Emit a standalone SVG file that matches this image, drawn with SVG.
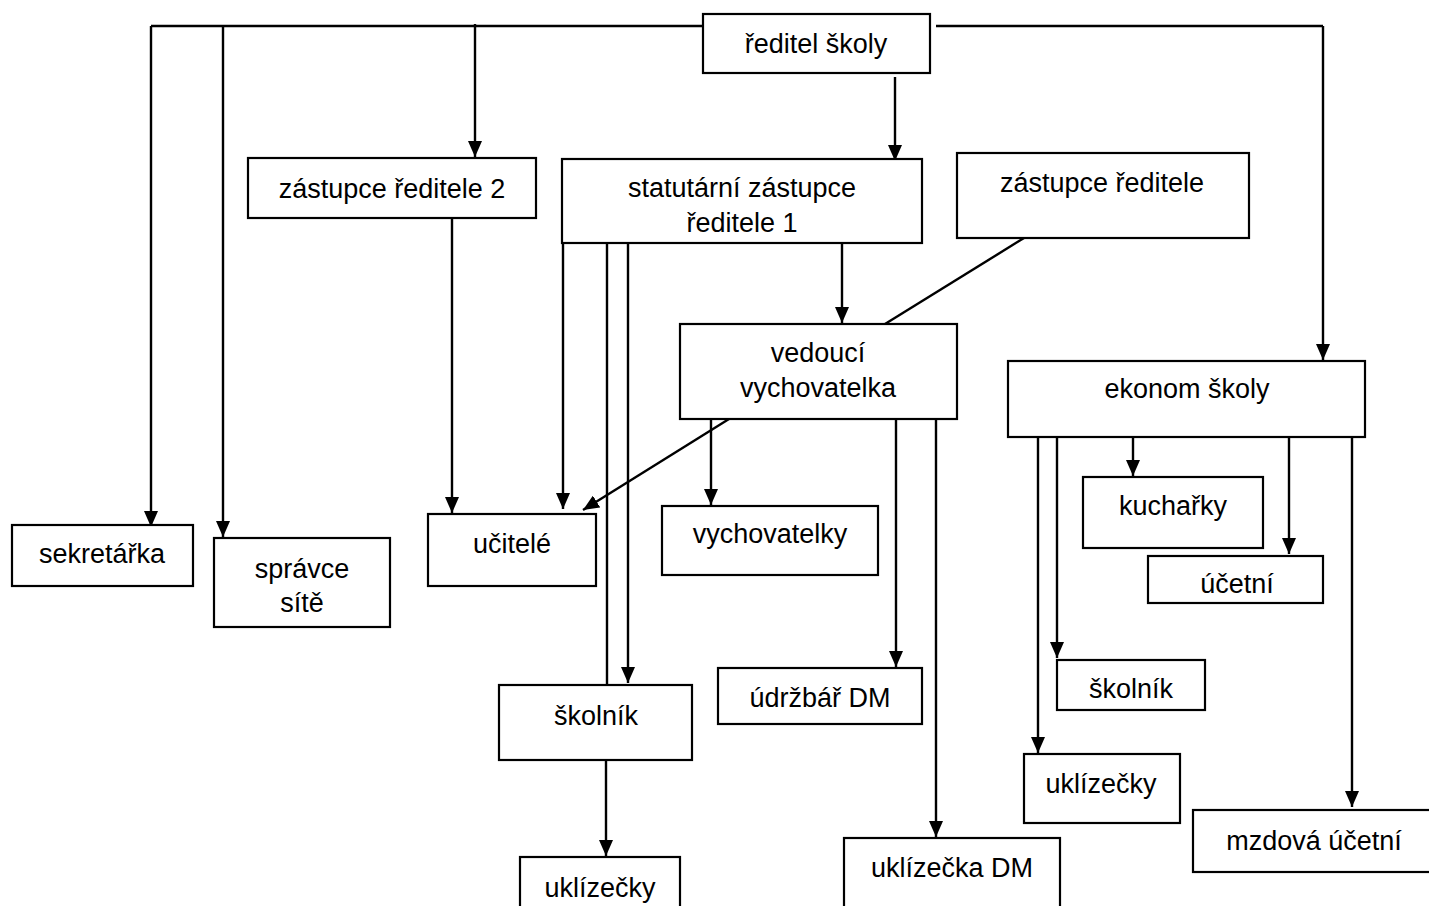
<svg xmlns="http://www.w3.org/2000/svg" width="1429" height="906" viewBox="0 0 1429 906">
<style>
.box{fill:#fff;stroke:#000;stroke-width:2.2}
.t{font-family:"Liberation Sans",Arial,sans-serif;font-size:27px;fill:#000;text-anchor:middle}
.c{fill:none;stroke:#000;stroke-width:2.4}
.a{marker-end:url(#arr)}
</style>
<defs>
<marker id="arr" viewBox="0 0 16 14" refX="16" refY="7" markerWidth="16" markerHeight="14" markerUnits="userSpaceOnUse" orient="auto">
<path d="M0,0 L16,7 L0,14 z" fill="#000"/>
</marker>
</defs>
<rect width="1429" height="906" fill="#fff"/>
<g id="connectors">
<path class="c" d="M151,26 H703"/>
<path class="c a" d="M151,26 V527"/>
<path class="c a" d="M223,26 V537"/>
<path class="c a" d="M475,24 V157"/>
<path class="c" d="M936,26 H1323"/>
<path class="c a" d="M1323,26 V360"/>
<path class="c a" d="M895,77 V161"/>
<path class="c a" d="M452,218 V513"/>
<path class="c a" d="M563,243 V509"/>
<path class="c" d="M607,243 V685"/>
<path class="c a" d="M606,760 V856"/>
<path class="c a" d="M628,243 V683"/>
<path class="c a" d="M842,243 V323"/>
<path class="c" d="M1024,238 L885,324"/>
<path class="c a" d="M729,419 L583,510"/>
<path class="c a" d="M711,419 V505"/>
<path class="c a" d="M896,419 V667"/>
<path class="c a" d="M936,419 V837"/>
<path class="c a" d="M1038,437 V753"/>
<path class="c a" d="M1057,437 V658"/>
<path class="c a" d="M1133,437 V476"/>
<path class="c a" d="M1289,433 V554"/>
<path class="c a" d="M1352,437 V807"/>
</g>
<g id="reditel"><rect class="box" x="703" y="14" width="227" height="59"/><text class="t" x="816" y="53">ředitel školy</text></g>
<g id="zastupce2"><rect class="box" x="248" y="158" width="288" height="60"/><text class="t" x="392" y="198">zástupce ředitele 2</text></g>
<g id="statutarni"><rect class="box" x="562" y="159" width="360" height="84"/><text class="t" x="742" y="197">statutární zástupce</text><text class="t" x="742" y="232">ředitele 1</text></g>
<g id="zastupce"><rect class="box" x="957" y="153" width="292" height="85"/><text class="t" x="1102" y="192">zástupce ředitele</text></g>
<g id="vedouci"><rect class="box" x="680" y="324" width="277" height="95"/><text class="t" x="818" y="362">vedoucí</text><text class="t" x="818" y="397">vychovatelka</text></g>
<g id="ekonom"><rect class="box" x="1008" y="361" width="357" height="76"/><text class="t" x="1187" y="398">ekonom školy</text></g>
<g id="sekretarka"><rect class="box" x="12" y="525" width="181" height="61"/><text class="t" x="102" y="563">sekretářka</text></g>
<g id="spravce"><rect class="box" x="214" y="538" width="176" height="89"/><text class="t" x="302" y="578">správce</text><text class="t" x="302" y="612">sítě</text></g>
<g id="ucitele"><rect class="box" x="428" y="514" width="168" height="72"/><text class="t" x="512" y="553">učitelé</text></g>
<g id="vychovatelky"><rect class="box" x="662" y="506" width="216" height="69"/><text class="t" x="770" y="543">vychovatelky</text></g>
<g id="kucharky"><rect class="box" x="1083" y="477" width="180" height="71"/><text class="t" x="1173" y="515">kuchařky</text></g>
<g id="ucetni"><rect class="box" x="1148" y="556" width="175" height="47"/><text class="t" x="1237" y="593">účetní</text></g>
<g id="skolnik2"><rect class="box" x="1057" y="660" width="148" height="50"/><text class="t" x="1131" y="698">školník</text></g>
<g id="skolnik1"><rect class="box" x="499" y="685" width="193" height="75"/><text class="t" x="596" y="725">školník</text></g>
<g id="udrzbar"><rect class="box" x="718" y="668" width="204" height="56"/><text class="t" x="820" y="707">údržbář DM</text></g>
<g id="uklizecky2"><rect class="box" x="1024" y="754" width="156" height="69"/><text class="t" x="1101" y="793">uklízečky</text></g>
<g id="mzdova"><rect class="box" x="1193" y="810" width="260" height="62"/><text class="t" x="1314" y="850">mzdová účetní</text></g>
<g id="uklizecky1"><rect class="box" x="520" y="857" width="160" height="80"/><text class="t" x="600" y="897">uklízečky</text></g>
<g id="uklizeckaDM"><rect class="box" x="844" y="838" width="216" height="100"/><text class="t" x="952" y="877">uklízečka DM</text></g>
</svg>
